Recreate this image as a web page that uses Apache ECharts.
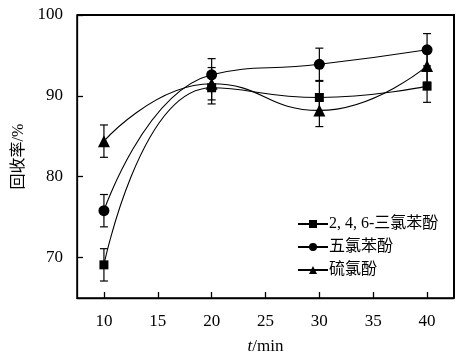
<!DOCTYPE html>
<html><head><meta charset="utf-8">
<script src="https://cdn.jsdelivr.net/npm/echarts@6/dist/echarts.min.js"></script>
<style>html,body{margin:0;padding:0;background:#fff}#c{width:472px;height:353px}</style>
</head><body><div id="c"></div>
<script>
var times = [10, 20, 30, 40];
var xTicks = [10, 15, 20, 25, 30, 35, 40];
var yTicks = [70, 80, 90, 100];
var seriesNames = ['2, 4, 6-三氯苯酚', '五氯苯酚', '硫氯酚'];
var tcp = [69.1, 91.0, 89.8, 91.2];
var tcpErr = [2.0, 2.0, 2.0, 2.0];
var pcp = [75.8, 92.6, 93.9, 95.7];
var pcpErr = [2.0, 2.0, 2.0, 2.0];
var bithionol = [84.4, 91.5, 88.2, 93.7];
var bithionolErr = [2.0, 2.0, 2.0, 2.0];
var xRange = [7.5, 42.5];
var yRange = [65, 100];

var FONT = "'Liberation Serif','Noto Sans CJK SC',serif";
var symbols = ['rect', 'circle', 'triangle'];
var sizes = [9, 11, 12];
var vals = [tcp, pcp, bithionol];
var errs = [tcpErr, pcpErr, bithionolErr];

var series = [];
vals.forEach(function (v, i) {
  series.push({
    name: seriesNames[i], type: 'line', smooth: 0.5,
    data: times.map(function (t, k) { return [t, v[k]]; }),
    symbol: symbols[i], symbolSize: sizes[i],
    lineStyle: { color: '#000', width: 1.1 },
    itemStyle: { color: '#000' }, z: 3
  });
  series.push({
    type: 'custom', silent: true, z: 2,
    data: times.map(function (t, k) { return [t, v[k] - errs[i][k], v[k] + errs[i][k]]; }),
    renderItem: function (params, api) {
      var lo = api.coord([api.value(0), api.value(1)]);
      var hi = api.coord([api.value(0), api.value(2)]);
      var w = 4;
      var st = { stroke: '#000', lineWidth: 1.2 };
      return { type: 'group', children: [
        { type: 'line', shape: { x1: lo[0], y1: lo[1], x2: hi[0], y2: hi[1] }, style: st },
        { type: 'line', shape: { x1: lo[0] - w, y1: lo[1], x2: lo[0] + w, y2: lo[1] }, style: st },
        { type: 'line', shape: { x1: hi[0] - w, y1: hi[1], x2: hi[0] + w, y2: hi[1] }, style: st }
      ]};
    }
  });
});

// plot frame (top and right edges) drawn through the axis scales
series.push({
  type: 'custom', clip: false, z: 6, silent: true,
  data: [[xRange[0], yRange[0], xRange[1], yRange[1]]],
  renderItem: function (params, api) {
    var a = api.coord([api.value(0), api.value(3)]);
    var b = api.coord([api.value(2), api.value(3)]);
    var c = api.coord([api.value(2), api.value(1)]);
    var pts = [a, b, c].map(function (p) { return [Math.round(p[0]), Math.round(p[1])]; });
    return { type: 'polyline', shape: { points: pts },
      style: { fill: null, stroke: '#000', lineWidth: 2 } };
  }
});

var chart = echarts.init(document.getElementById('c'));
chart.setOption({
  animation: false,
  grid: { left: 77, right: 18, top: 15, bottom: 55, containLabel: false, outerBoundsMode: 'none',
          show: true, borderColor: '#000', borderWidth: 1.5 },
  legend: {
    orient: 'vertical', left: 292, top: 211, itemGap: 7, itemWidth: 30, itemHeight: 10,
    data: seriesNames,
    textStyle: { fontFamily: FONT, fontSize: 16, color: '#000', padding: [0, 0, 0, -4] }
  },
  xAxis: {
    type: 'value', min: xRange[0], max: xRange[1],
    name: '{i|t}/min', nameLocation: 'middle', nameGap: 40,
    nameTextStyle: { fontFamily: FONT, fontSize: 17, color: '#000', rich: { i: { fontStyle: 'italic', fontFamily: FONT, fontSize: 17, color: '#000' } } },
    axisLine: { show: true, onZero: false, lineStyle: { color: '#000', width: 1.3 } },
    axisTick: { show: true, inside: true, length: 6, customValues: xTicks, lineStyle: { color: '#000', width: 1.3 } },
    axisLabel: { customValues: xTicks, margin: 15, fontFamily: FONT, fontSize: 17, color: '#000' },
    splitLine: { show: false }
  },
  yAxis: {
    type: 'value', min: yRange[0], max: yRange[1],
    name: '回收率/%', nameLocation: 'middle', nameGap: 48, nameRotate: 90,
    nameTextStyle: { fontFamily: FONT, fontSize: 16, color: '#000' },
    axisLine: { show: true, onZero: false, lineStyle: { color: '#000', width: 1.3 } },
    axisTick: { show: true, inside: true, length: 6, customValues: yTicks, lineStyle: { color: '#000', width: 1.3 } },
    axisLabel: { customValues: yTicks, margin: 14, fontFamily: FONT, fontSize: 17, color: '#000' },
    splitLine: { show: false }
  },
  series: series
});

// additional frame via graphic, positioned from the axis scales
var tl = chart.convertToPixel({ gridIndex: 0 }, [xRange[0], yRange[1]]);
var tr = chart.convertToPixel({ gridIndex: 0 }, [xRange[1], yRange[1]]);
var br = chart.convertToPixel({ gridIndex: 0 }, [xRange[1], yRange[0]]);
chart.setOption({
  graphic: [{
    type: 'polyline', silent: true, z: 100,
    shape: { points: [[Math.round(tl[0]), Math.round(tl[1])], [Math.round(tr[0]), Math.round(tr[1])], [Math.round(br[0]), Math.round(br[1])]] },
    style: { fill: null, stroke: '#000', lineWidth: 2 }
  }]
});
</script></body></html>
